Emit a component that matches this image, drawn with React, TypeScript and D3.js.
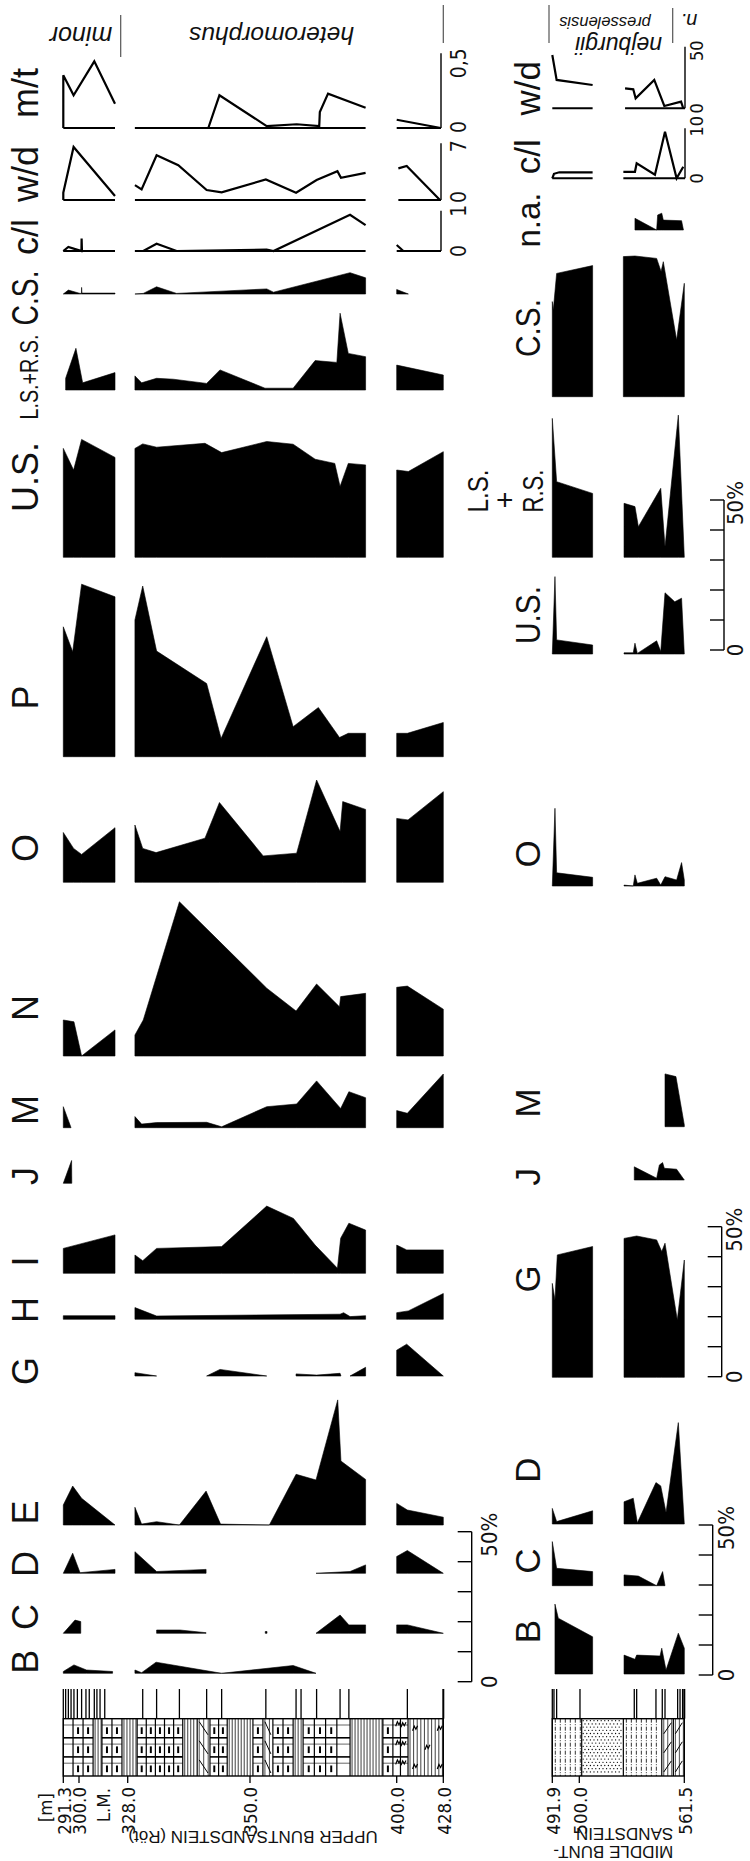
import React from "react";
import * as d3 from "d3";

type Pt = [number, number];
type Seg = Pt[];

// depth axes (m)
const upperDepthTicks = [291.3, 300.0, 328.0, 350.0, 400.0, 428.0];
const upperDepthLabels = ["291.3", "300.0", "328.0", "350.0", "400.0", "428.0"];
const middleDepthTicks = [491.9, 500.0, 561.5];
const middleDepthLabels = ["491.9", "500.0", "561.5"];
const unitLM = 313.1;

// sampled levels
const upperSamples = [291.3, 292.6, 294.1, 295.6, 297.2, 299.1, 301.5, 304.0, 305.9, 308.8, 310.3, 312.1, 314.8,
  330.7, 333.2, 337.3, 342.2, 344.9, 355.4, 365.7, 367.4, 372.7, 380.7, 383.7, 406.4, 428.0];
const middleSamples = [491.9, 492.4, 493.2, 500.4, 532.2, 533.6, 544.9, 548.6, 550.2, 557.6, 559.0, 560.5, 561.5];

// ---- Upper Buntsandstein (Röt): [depth, value], values in % unless noted
const upperMT: Seg[] = [ // ratio 0-0.5
  [[291.3, 0], [291.3, 0.353], [297.0, 0.219], [308.8, 0.446], [320.7, 0.163]],
  [[329.3, 0], [342.5, 0], [344.5, 0.219], [355.7, 0.013], [365.9, 0.025], [373.6, 0.013], [373.8, 0.107], [376.6, 0.23], [389.4, 0.136]],
  [[400.0, 0.055], [426.5, 0]],
];
const upperWD: Seg[] = [ // 0-7
  [[291.3, 0], [291.3, 0.9], [297.0, 6.55], [320.7, 0.49]],
  [[329.3, 1.84], [330.5, 1.31], [333.2, 5.53], [337.1, 4.3], [342.2, 1.23], [344.9, 0.94], [355.4, 2.54], [365.7, 0.9], [372.7, 2.46], [379.8, 3.56], [381.0, 2.74], [389.4, 3.35]],
  [[401.0, 3.9], [406.0, 4.2], [426.0, 0]],
];
const upperCL: Seg[] = [ // 0-1
  [[291.3, 0], [294.1, 0.1], [300.6, 0.01], [301.4, 0], [301.5, 0.31], [301.7, 0], [320.7, 0]],
  [[329.3, 0], [330.8, 0], [333.2, 0.18], [336.8, 0], [355.7, 0.033], [358.0, 0], [384.1, 0.9], [389.4, 0.64]],
  [[400.0, 0.15], [404.0, 0]],
];
const upperCS: Seg[] = [
  [[291.3, 0], [294.1, 1.3], [300.6, 0.2], [301.4, 0.2], [301.5, 2.2], [301.7, 0.3], [320.7, 0.3]],
  [[329.3, 0], [330.8, 0.2], [333.2, 2.4], [336.8, 0.2], [355.7, 1.7], [358.0, 0.6], [384.1, 7.1], [389.4, 5.4]],
  [[400.0, 1.5], [407.0, 0]],
];
const upperLSRS: Seg[] = [
  [[292.6, 3.9], [298.3, 13.9], [302.1, 2.4], [320.7, 5.8]],
  [[329.3, 4.7], [330.5, 2.4], [333.2, 3.9], [336.2, 3.6], [342.2, 2.2], [344.6, 6.7], [355.1, 0.6], [364.7, 0.6], [372.2, 9.8], [379.6, 9.2], [380.7, 25.6], [383.5, 12.2], [389.4, 11.1]],
  [[400.0, 8.3], [428.0, 5.0]],
];
const upperUS: Seg[] = [
  [[291.3, 36.3], [297.0, 29.1], [301.5, 39.3], [320.7, 33.3]],
  [[329.3, 36.3], [330.7, 37.8], [333.2, 36.7], [341.9, 38], [344.9, 34.9], [355.7, 38.6], [364.7, 37.7], [372.2, 32.7], [378.9, 31.3], [380.7, 23.6], [383.5, 31.3], [389.4, 30.8]],
  [[400.0, 29.1], [407.0, 28.6], [428.0, 35.2]],
];
const upperP: Seg[] = [
  [[291.3, 43.3], [296.5, 35], [301.5, 57.5], [320.7, 53.3]],
  [[329.3, 45.6], [330.7, 56.9], [333.2, 35.2], [342.2, 24.4], [344.8, 6.1], [355.7, 40], [364.7, 10], [373.3, 16.4], [380.5, 6.4], [383.5, 7.8], [389.4, 7.8]],
  [[400.0, 7.8], [406.4, 7.8], [428.0, 11.4]],
];
const upperO: Seg[] = [
  [[291.3, 16.6], [297.0, 11.3], [301.5, 9.3], [320.7, 18.2]],
  [[329.3, 19.1], [330.7, 11.3], [333.1, 9.9], [341.9, 14.7], [344.5, 26.6], [354.5, 8.8], [365.9, 9.7], [372.7, 34.1], [380.7, 16.9], [381.6, 26.9], [389.4, 24.3]],
  [[400.0, 21.3], [406.8, 20.8], [428.0, 30.2]],
];
const upperN: Seg[] = [
  [[291.3, 12], [297.2, 11.4], [301.5, 0], [320.7, 8.7]],
  [[329.3, 7], [330.8, 12], [337.3, 51.4], [355.7, 22.6], [365.7, 15], [372.7, 24], [380.5, 16.4], [380.9, 19.8], [389.4, 20.9]],
  [[400.0, 22.9], [406.4, 23.3], [428.0, 15.6]],
];
const upperM: Seg[] = [
  [[291.3, 7], [295.6, 0]],
  [[329.3, 3.7], [330.5, 1.2], [333.2, 1.7], [342.2, 1.8], [344.9, 0.3], [355.7, 7], [365.9, 7.9], [372.7, 15.6], [380.9, 6.4], [383.7, 12], [389.4, 10]],
  [[400.0, 5.7], [406.4, 4.8], [428.0, 17.9]],
];
const upperJ: Seg[] = [
  [[291.3, 0], [295.9, 7.6], [296.0, 0]],
];
const upperI: Seg[] = [
  [[291.3, 8.3], [320.7, 12.8]],
  [[329.3, 6.1], [330.7, 4.2], [333.2, 8.3], [344.9, 8.9], [355.7, 22.4], [364.8, 18.3], [372.2, 9.4], [379.8, 1.7], [380.9, 11.7], [383.7, 16.7], [389.4, 14.4]],
  [[400.0, 9.4], [406.0, 7.8], [428.0, 7.8]],
];
const upperH: Seg[] = [
  [[291.3, 1.2], [320.7, 1.2]],
  [[329.3, 3.9], [333.2, 1.1], [380.7, 1.7], [381.9, 2.2], [384.1, 0.9], [389.4, 1.2]],
  [[400.0, 2.2], [407.0, 2.8], [428.0, 8.6]],
];
const upperG: Seg[] = [
  [[329.3, 1.1], [333.2, 0]],
  [[342.2, 0], [344.6, 2.2], [355.7, 0]],
  [[365.7, 0.7], [372.7, 0.3], [380.7, 0.9], [381.0, 0]],
  [[384.1, 0], [389.4, 2.9]],
  [[400.0, 8.6], [406.0, 10.6], [428.0, 0]],
];
const upperE: Seg[] = [
  [[291.3, 6.7], [296.5, 13], [301.5, 8.9], [320.7, 0]],
  [[329.3, 5.9], [330.5, 0.3], [333.2, 1.1], [337.3, 0], [342.1, 11.3], [344.7, 0.3], [356.6, 0], [365.7, 16.9], [372.5, 15], [379.9, 41.7], [381.0, 21.3], [389.4, 15.2]],
  [[400.0, 7.2], [406.4, 5.0], [428.0, 2.6]],
];
const upperD: Seg[] = [
  [[291.3, 0], [296.5, 6.7], [300.6, 0.2], [320.7, 1.3]],
  [[329.3, 7.2], [333.2, 0.6], [342.1, 1.3]],
  [[372.5, 0], [384.1, 0.6], [389.4, 2.8]],
  [[400.0, 5.6], [406.4, 7.6], [428.0, 0]],
];
const upperC: Seg[] = [
  [[291.3, 0], [297.8, 4.4], [301.0, 3.9]],
  [[333.2, 1.1], [337.4, 1.1], [342.1, 0.2]],
  [[355.2, 0.6], [355.8, 0.6]],
  [[372.5, 0], [380.7, 6.1], [383.7, 2.8], [389.4, 2.8]],
  [[400.0, 2.8], [406.4, 2.8], [428.0, 0]],
];
const upperB: Seg[] = [
  [[291.3, 0.6], [297.2, 2.8], [304.3, 1.1], [319.3, 0.6]],
  [[329.3, 1.1], [330.5, 0.2], [333.1, 3.7], [344.9, 0], [364.7, 2.6], [372.5, 0]],
];

// ---- Middle Buntsandstein
const midWD: Seg[] = [ // 0-50
  [[491.9, 43.3], [493.2, 23], [507.8, 18.9]],
  [[526.8, 16.2], [531.6, 15.4], [533.0, 8.1], [543.9, 23], [549.8, 1.9], [559.6, 5.4], [560.9, 0]],
];
const midCL: Seg[] = [ // 0-10
  [[491.9, 0], [492.4, 0.9], [494.0, 1.2], [507.8, 1.2]],
  [[525.8, 1.3], [532.6, 1.3], [533.6, 3.0], [544.3, 0.7], [550.2, 9.3], [557.0, 0], [560.9, 2.3]],
];
const midNA: Seg[] = [
  [[532.6, 3.9], [545.3, 0], [545.9, 5], [548.3, 5.6], [549.2, 3.3], [559.9, 3.1], [561.0, 0]],
];
const midCS: Seg[] = [
  [[491.9, 31.7], [492.2, 28.9], [493.2, 41.1], [507.8, 43.7]],
  [[525.8, 46.7], [532.6, 46.9], [545.3, 46.1], [547.9, 41.7], [549.2, 45], [557.0, 18.9], [561.5, 37.8]],
];
const midLSRS: Seg[] = [
  [[491.9, 46.3], [493.2, 25.2], [507.8, 21.3]],
  [[526.2, 18], [532.6, 16.9], [534.6, 10.2], [547.7, 23], [550.2, 3.5], [558.0, 47.4], [561.5, 0]],
];
const midUS: Seg[] = [
  [[491.9, 0], [492.7, 25.8], [493.2, 4.7], [507.8, 3]],
  [[526.2, 0.4], [531.6, 0.4], [532.6, 3.6], [534.0, 0.2], [545.3, 4.4], [547.7, 0.8], [550.2, 20.4], [555.9, 17.4], [559.9, 18.6], [561.5, 0]],
];
const midO: Seg[] = [
  [[491.9, 0], [492.7, 25.9], [493.2, 4.4], [507.8, 2.9]],
  [[526.2, 0.3], [531.6, 0], [532.6, 3.7], [534.0, 0.9], [545.3, 2.6], [547.7, 0.3], [550.2, 3.1], [557.0, 2], [559.9, 7.8], [561.5, 2]],
];
const midM: Seg[] = [
  [[550.2, 17.6], [556.6, 16.7], [561.5, 0.6]],
];
const midJ: Seg[] = [
  [[532.2, 4.4], [545.3, 0.6], [546.9, 5], [548.8, 5.8], [549.8, 3.9], [557.0, 3.6], [561.5, 0]],
];
const midG: Seg[] = [
  [[491.9, 31.3], [492.7, 25.8], [493.4, 40.8], [507.8, 43.6]],
  [[526.2, 46.3], [533.6, 47.1], [545.3, 45.8], [548.3, 41.9], [550.2, 44.7], [557.4, 19.1], [561.5, 39.1]],
];
const midD: Seg[] = [
  [[491.9, 5.2], [493.2, 0.8], [507.8, 4.4]],
  [[526.2, 7.4], [531.6, 8.6], [534.0, 0.4], [544.9, 13.8], [547.7, 12.7], [550.8, 3.8], [558.0, 33.8], [561.5, 0]],
];
const midC: Seg[] = [
  [[491.9, 14.7], [493.2, 5.8], [507.8, 4.7]],
  [[526.2, 3.6], [534.6, 3.2], [545.3, 0], [548.8, 4.7], [550.2, 0]],
];
const midB: Seg[] = [
  [[492.7, 23.3], [493.7, 18.6], [507.8, 12.4]],
  [[526.2, 6.3], [532.6, 4.9], [533.6, 6.3], [547.3, 6], [548.3, 8.6], [550.8, 1.3], [558.0, 13.6], [561.5, 8.6]],
];

// lithology intervals [from, to, type]
const upperLith: [number, number, string][] = [
  [291.3, 296.7, "brick0"], [296.7, 308.1, "brick"], [308.1, 313.2, "vl"], [313.2, 324.7, "brick"],
  [324.7, 329.7, "vl"], [329.7, 337.9, "brick"], [337.9, 340.5, "vl"], [340.5, 342.8, "diag"],
  [342.8, 345.9, "brick"], [345.9, 351.0, "vl"], [351.0, 354.4, "brick"], [354.4, 357.8, "diag"],
  [357.8, 364.7, "brick"], [364.7, 368.1, "vl"], [368.1, 379.6, "brick"], [379.6, 384.1, "brick0"],
  [384.1, 395.3, "vl"], [395.3, 398.7, "brick"], [398.7, 406.8, "gyp"], [406.8, 428.0, "vlgyp"],
];
const middleLith: [number, number, string][] = [
  [491.9, 501.4, "dd"], [501.4, 525.8, "dots"], [525.8, 548.3, "dd"], [548.3, 555.1, "mdiag"], [555.1, 561.5, "mdiag"],
];

// ---------- layout ----------
const SANS = "'Liberation Sans', Arial, Helvetica, sans-serif";
const NARROW = "'Liberation Sans Narrow', 'Arial Narrow', 'DejaVu Sans Condensed', sans-serif";
const LT = 1718.7, LB = 1776, ROW = (LB - LT) / 3;

type Col = { label: string; data: Seg[]; base: number; ly: number; line?: [number, number]; h?: number;
  fs?: number; len?: number; nudge?: [number, number] };

const upperCols: Col[] = [
  { label: "m/t", data: upperMT, base: 128, ly: 93, line: [0, 0.5], h: 74.7, nudge: [-1, 10] },
  { label: "w/d", data: upperWD, base: 200, ly: 174, line: [0, 7], h: 56.7, nudge: [-3, 3] },
  { label: "c/l", data: upperCL, base: 251, ly: 237, line: [0, 1], h: 40.3, nudge: [0, 0] },
  { label: "C.S.", data: upperCS, base: 294, ly: 298, len: 55 },
  { label: "L.S.+R.S.", data: upperLSRS, base: 390, ly: 377, fs: 25, len: 85 },
  { label: "U.S.", data: upperUS, base: 557.3, ly: 477 },
  { label: "P", data: upperP, base: 756.7, ly: 697.5 },
  { label: "O", data: upperO, base: 882.3, ly: 848 },
  { label: "N", data: upperN, base: 1056, ly: 1008 },
  { label: "M", data: upperM, base: 1127.7, ly: 1110 },
  { label: "J", data: upperJ, base: 1183.3, ly: 1176 },
  { label: "I", data: upperI, base: 1273.3, ly: 1261.5 },
  { label: "H", data: upperH, base: 1319.3, ly: 1310 },
  { label: "G", data: upperG, base: 1376, ly: 1371 },
  { label: "E", data: upperE, base: 1525, ly: 1512.5 },
  { label: "D", data: upperD, base: 1573.3, ly: 1564 },
  { label: "C", data: upperC, base: 1633.3, ly: 1617 },
  { label: "B", data: upperB, base: 1673.3, ly: 1661.7 },
];

const middleCols: Col[] = [
  { label: "w/d", data: midWD, base: 108.3, ly: 88.3, line: [0, 50], h: 61.6, nudge: [0, 4] },
  { label: "c/l", data: midCL, base: 178.3, ly: 156.7, line: [0, 10], h: 50, nudge: [0, -2] },
  { label: "n.a.", data: midNA, base: 230, ly: 220, fs: 33 },
  { label: "C.S.", data: midCS, base: 396.7, ly: 328, len: 58 },
  { label: "", data: midLSRS, base: 557.3, ly: 491 },
  { label: "U.S.", data: midUS, base: 654, ly: 615, len: 58 },
  { label: "O", data: midO, base: 886, ly: 854 },
  { label: "M", data: midM, base: 1126.7, ly: 1103 },
  { label: "J", data: midJ, base: 1180, ly: 1176.7 },
  { label: "G", data: midG, base: 1377.3, ly: 1279 },
  { label: "D", data: midD, base: 1524, ly: 1470 },
  { label: "C", data: midC, base: 1585.7, ly: 1561 },
  { label: "B", data: midB, base: 1674, ly: 1631.7 },
];

const pctAxes = [
  { x: 471.7, y0: 1681.7, lx: 497 },
  { x: 712.7, y0: 1675, lx: 734 },
  { x: 721.7, y0: 1376.7, lx: 742 },
  { x: 724, y0: 650, lx: 743 },
];

function lithShapes(x0: number, x1: number, type: string, key: string) {
  const out: React.ReactElement[] = [];
  let k = 0;
  const L = (a: number, b: number, c: number, d: number, w: number, extra: any = {}) =>
    out.push(<line key={`${key}-${k++}`} x1={a} y1={b} x2={c} y2={d} strokeWidth={w} {...extra} />);
  const caret = (x: number, y: number) =>
    out.push(<path key={`${key}-${k++}`} d={`M${x - 2.5},${y + 2.5}L${x - 0.8},${y - 2}L${x + 0.8},${y + 1}L${x + 2.5},${y - 2.5}`} fill="none" strokeWidth={1.2} />);
  const rows = [0, 1, 2].map(i => LT + i * ROW);
  if (type === "brick" || type === "brick0" || type === "gyp") {
    L(x0, LT + ROW, x1, LT + ROW, 1.6);
    L(x0, LT + 2 * ROW, x1, LT + 2 * ROW, 1.6);
    rows.forEach(r => L(x0, r + ROW * 0.33, x1, r + ROW * 0.33, 0.6));
    const n = Math.max(1, Math.round((x1 - x0) / 10));
    const w = (x1 - x0) / n;
    for (let i = 1; i < n; i++) L(x0 + i * w, LT, x0 + i * w, LB, 1.2);
    if (type === "brick")
      for (let i = 0; i < n; i++)
        rows.forEach(r => L(x0 + (i + 0.5) * w, r + ROW * 0.45, x0 + (i + 0.5) * w, r + ROW * 0.8, 2));
    if (type === "gyp") rows.forEach(r => { caret(x0 + (x1 - x0) * 0.35, r + 5); caret(x0 + (x1 - x0) * 0.7, r + 6); });
  }
  if (type === "vl" || type === "vlgyp") {
    const step = type === "vl" ? 3 : 3.6;
    for (let x = x0 + 2; x < x1 - 0.5; x += step) L(x, LT, x, LB, 0.75);
  }
  if (type === "vlgyp") {
    [0.2, 0.55, 0.9].forEach((f, i) => rows.forEach((r, j) => { if ((i + j) % 2 === 0) caret(x0 + (x1 - x0) * f, r + ROW / 2); }));
  }
  if (type === "diag") {
    for (let x = x0 + 2; x < x1 - 0.5; x += 4.5) L(x, LT, x, LB, 0.7);
    rows.forEach(r => L(x0 + 2, r + 3, x1 - 2, r + ROW - 3, 1));
  }
  if (type === "mdiag") {
    for (let x = x0 + 2; x < x1 - 0.5; x += 4) L(x, LT, x, LB, 0.7);
    rows.forEach(r => L(x0 + 2, r + ROW - 4, x1 - 2, r + 4, 1));
  }
  if (type === "dd") {
    for (let x = x0 + 3; x < x1 - 0.5; x += 5) L(x, LT, x, LB, 0.8, { strokeDasharray: "4 1.5 1 1.5" });
  }
  if (type === "dots") {
    let j = 0;
    for (let y = LT + 2; y < LB - 1; y += 3.2, j++)
      for (let x = x0 + 1.5 + (j % 2) * 1.8; x < x1 - 1; x += 3.6)
        out.push(<circle key={`${key}-${k++}`} cx={x} cy={y} r={0.65} fill="#000" stroke="none" />);
  }
  return out;
}

function Section({ cols, x, labelX, axisX, axisLabelX, fs, axisFs }:
  { cols: Col[]; x: d3.ScaleLinear<number, number>; labelX: number; axisX: number; axisLabelX: number; fs: number; axisFs: number }) {
  const pct = d3.scaleLinear().domain([0, 50]).range([0, 150]);
  return (
    <g>
      {cols.map((c, ci) => {
        const vy = c.line
          ? d3.scaleLinear().domain(c.line).range([c.base, c.base - (c.h as number)])
          : (v: number) => c.base - pct(v);
        const label = c.label ? (
          <text transform={`translate(${labelX},${c.ly}) rotate(-90)`} textAnchor="middle"
            fontSize={c.fs ?? fs} fontFamily={SANS} fill="#111"
            {...(c.len ? { textLength: c.len, lengthAdjust: "spacingAndGlyphs" } : {})}>{c.label}</text>
        ) : null;
        if (c.line) {
          const line = d3.line<Pt>().x(d => x(d[0])).y(d => vy(d[1]));
          const [d0, d1] = c.line;
          const nd = c.nudge ?? [0, 0];
          const fmt = (v: number) => String(v).replace(".", ",");
          return (
            <g key={ci}>
              {label}
              {c.data.map((s, si) => (
                <line key={"b" + si} x1={x(s[0][0])} x2={si === c.data.length - 1 ? axisX : x(s[s.length - 1][0])}
                  y1={c.base} y2={c.base} stroke="#000" strokeWidth={2} />
              ))}
              {c.data.map((s, si) => (
                <path key={"l" + si} d={line(s) ?? ""} fill="none" stroke="#000" strokeWidth={2.2} strokeLinejoin="miter" />
              ))}
              <line x1={axisX} x2={axisX} y1={vy(d0)} y2={vy(d1)} stroke="#000" strokeWidth={1.4} />
              {[d0, d1].map((v, i) => (
                <text key={"t" + i} transform={`translate(${axisLabelX},${vy(v) + nd[i]}) rotate(-90)`}
                  textAnchor="middle" fontSize={axisFs} fontFamily={NARROW} fill="#111">{fmt(v)}</text>
              ))}
            </g>
          );
        }
        const area = d3.area<Pt>().x(d => x(d[0])).y0(c.base).y1(d => vy(d[1]));
        return (
          <g key={ci}>
            {label}
            {c.data.map((s, si) => <path key={si} d={area(s) ?? ""} fill="#000" stroke="#000" strokeWidth={0.6} />)}
          </g>
        );
      })}
    </g>
  );
}

function Lithology({ x, intervals, samples, ticks, labels }:
  { x: d3.ScaleLinear<number, number>; intervals: [number, number, string][]; samples: number[]; ticks: number[]; labels: string[] }) {
  const [xa, xb] = [x(ticks[0]), x(ticks[ticks.length - 1])];
  return (
    <g stroke="#000">
      {samples.map((s, i) => (
        <line key={"s" + i} x1={x(s)} x2={x(s)} y1={1689} y2={LT} strokeWidth={i === samples.length - 1 ? 2 : 1.3} />
      ))}
      {intervals.map(([a, b, t], i) => (
        <g key={"i" + i}>
          {lithShapes(x(a), x(b), t, "L" + i)}
          <line x1={x(a)} x2={x(a)} y1={LT} y2={LB} strokeWidth={1.2} />
        </g>
      ))}
      <rect x={xa} y={LT} width={xb - xa} height={LB - LT} fill="none" strokeWidth={1.4} />
      {ticks.map((t, i) => (
        <g key={"t" + i}>
          <line x1={x(t)} x2={x(t)} y1={LB} y2={LB + 7} strokeWidth={1.3} />
          <text transform={`translate(${x(t) + 7.3},${1787}) rotate(-90)`} textAnchor="end" fontSize={18.5}
            fontFamily={NARROW} fill="#111" stroke="none">{labels[i]}</text>
        </g>
      ))}
    </g>
  );
}

export default function App() {
  const xU = d3.scaleLinear().domain(upperDepthTicks).range([63.3, 79, 127.7, 250, 396.7, 443.3]);
  const xM = d3.scaleLinear().domain(middleDepthTicks).range([552.3, 579.3, 684.3]);
  const pct = d3.scaleLinear().domain([0, 50]).range([0, 150]);

  return (
    <svg width={750} height={1861} viewBox="0 0 750 1861"
      style={{ position: "absolute", left: 0, top: 0, background: "#fff" }}>
      <rect width={750} height={1861} fill="#fff" />

      {/* zone headers */}
      <g fill="#111" fontFamily={SANS} fontStyle="italic">
        <text transform="translate(81,33) rotate(180)" textAnchor="middle" dy="0.26em" fontSize={25}>minor</text>
        <text transform="translate(271.5,33) rotate(180)" textAnchor="middle" dy="0.26em" fontSize={24.5}>heteromorphus</text>
        <text transform="translate(605,21.7) rotate(180)" textAnchor="middle" dy="0.26em" fontSize={16.5}>presselensis</text>
        <text transform="translate(618.5,43) rotate(180)" textAnchor="middle" dy="0.26em" fontSize={23}>nejburgii</text>
        <text transform="translate(689,19) rotate(180)" textAnchor="middle" dy="0.26em" fontSize={20}>n.</text>
      </g>
      <g stroke="#555" strokeWidth={1.2}>
        <line x1={120.7} x2={120.7} y1={15} y2={57} />
        <line x1={443.3} x2={443.3} y1={5} y2={43} />
        <line x1={549} x2={549} y1={5} y2={43} />
        <line x1={672.7} x2={672.7} y1={8} y2={43} />
      </g>

      <Section cols={upperCols} x={xU} labelX={38.3} axisX={441} axisLabelX={466} fs={36} axisFs={21} />
      <Section cols={middleCols} x={xM} labelX={540} axisX={685} axisLabelX={703} fs={35} axisFs={18} />

      {/* stacked L.S. + R.S. label of the middle section */}
      <g fontFamily={SANS} fill="#111">
        <text transform="translate(488.3,491) rotate(-90)" textAnchor="middle" fontSize={29} textLength={43} lengthAdjust="spacingAndGlyphs">L.S.</text>
        <text transform="translate(514.5,500) rotate(-90)" textAnchor="middle" fontSize={29}>+</text>
        <text transform="translate(543.3,491) rotate(-90)" textAnchor="middle" fontSize={29} textLength={43} lengthAdjust="spacingAndGlyphs">R.S.</text>
      </g>

      {/* percentage scale bars */}
      {pctAxes.map((a, i) => (
        <g key={i} stroke="#000">
          <line x1={a.x} x2={a.x} y1={a.y0} y2={a.y0 - pct(50)} strokeWidth={1.4} />
          {pct.ticks(5).map(t => (
            <line key={t} x1={a.x - 14} x2={a.x} y1={a.y0 - pct(t)} y2={a.y0 - pct(t)} strokeWidth={1.4} />
          ))}
          <text transform={`translate(${a.lx},${a.y0}) rotate(-90)`} textAnchor="middle" fontSize={22}
            fontFamily={NARROW} fill="#111" stroke="none">0</text>
          <text transform={`translate(${a.lx},${a.y0 - pct(50) + 3}) rotate(-90)`} textAnchor="middle" fontSize={22}
            fontFamily={NARROW} fill="#111" stroke="none">50%</text>
        </g>
      ))}

      <Lithology x={xU} intervals={upperLith} samples={upperSamples} ticks={upperDepthTicks} labels={upperDepthLabels} />
      <Lithology x={xM} intervals={middleLith} samples={middleSamples} ticks={middleDepthTicks} labels={middleDepthLabels} />

      <g fontFamily={NARROW} fill="#111" fontSize={18.5}>
        <text transform="translate(52,1793) rotate(-90)" textAnchor="end">[m]</text>
        <text transform={`translate(${xU(unitLM) + 8},1788) rotate(-90)`} textAnchor="end">L.M.</text>
      </g>

      <g fontFamily={SANS} fill="#111" fontSize={17}>
        <text transform="translate(253,1836.7) rotate(180)" textAnchor="middle" dy="0.35em">UPPER BUNTSANDSTEIN (Röt)</text>
        <text transform="translate(673.3,1834) rotate(180)" textAnchor="start" dy="0.35em">SANDSTEIN</text>
        <text transform="translate(673.3,1852) rotate(180)" textAnchor="start" dy="0.35em">MIDDLE BUNT-</text>
      </g>
    </svg>
  );
}
